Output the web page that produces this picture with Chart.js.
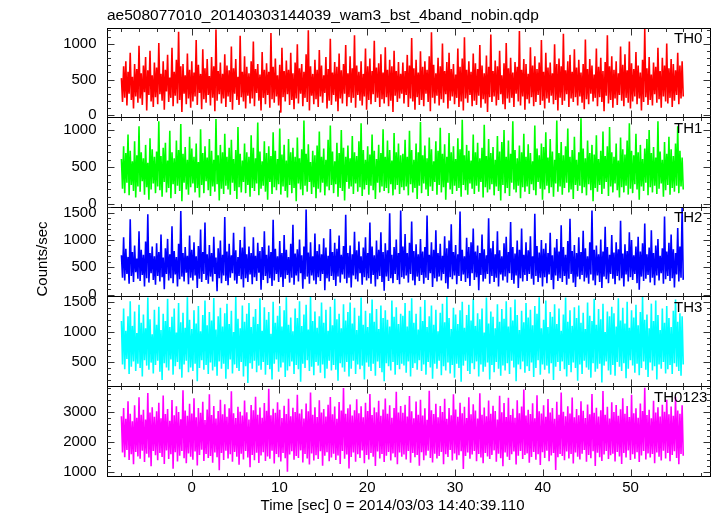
<!DOCTYPE html>
<html>
<head>
<meta charset="utf-8">
<script src="https://cdn.jsdelivr.net/npm/chart.js@4.4.1/dist/chart.umd.min.js"></script>
<style>
  html, body { margin: 0; padding: 0; background: #fff; }
  #lc { display: block; }
</style>
</head>
<body>
<canvas id="lc" width="717" height="516"></canvas>
<script>
// light curve, 5 energy bands, time in sec from 2014/03/03 14:40:39.110
const titleText = 'ae508077010_20140303144039_wam3_bst_4band_nobin.qdp';
const xTitle = 'Time [sec] 0 = 2014/03/03 14:40:39.110';
const yTitle = 'Counts/sec';

const bandNames = ['TH0', 'TH1', 'TH2', 'TH3', 'TH0123'];
const bandColors = ['#ff0000', '#00ff00', '#0000ff', '#00ffff', '#ff00ff'];

const tStart = -8;
const tEnd = 56;

const th0 = [
  520, 180, 690, 240, 760, 130, 610, 300, 880, 210, 540, 90, 720, 260, 650, 170,
  980, 230, 590, 140, 700, 320, 820, 60, 630, 280, 910, 190, 560, 110, 740, 250,
  670, 150, 1020, 290, 580, 200, 760, 70, 640, 330, 850, 180, 530, 240, 950, 120,
  610, 270, 780, 160, 1180, 210, 690, 40, 720, 300, 560, 150, 870, 230, 640, 100,
  760, 190, 600, 260, 1060, 140, 710, 310, 580, 80, 930, 220, 660, 170, 790, 280,
  550, 130, 820, 240, 690, 50, 1210, 200, 620, 290, 740, 160, 580, 230, 860, 110,
  700, 260, 630, 180, 970, 70, 660, 300, 790, 210, 540, 140, 1120, 250, 610, 190,
  830, 90, 680, 270, 590, 160, 760, 230, 1040, 120, 650, 310, 720, 200, 570, 60,
  890, 240, 640, 150, 730, 280, 610, 100, 1160, 220, 680, 170, 800, 260, 560, 130,
  710, 30, 950, 250, 620, 190, 770, 290, 640, 140, 880, 210, 590, 80, 740, 230,
  1000, 160, 660, 300, 720, 120, 610, 240, 860, 180, 1200, 60, 690, 270, 580, 150,
  780, 220, 640, 110, 920, 260, 700, 170, 560, 310, 820, 90, 650, 200, 1080, 140,
  600, 280, 750, 190, 680, 50, 870, 230, 630, 160, 720, 300, 990, 120, 590, 250,
  830, 170, 660, 240, 1130, 100, 700, 280, 610, 200, 760, 130, 580, 260, 940, 70,
  690, 210, 800, 150, 620, 290, 1050, 180, 670, 240, 730, 110, 860, 220, 600, 160,
  960, 250, 640, 120, 780, 200, 690, 40, 910, 270, 620, 180, 750, 230, 580, 300,
  740, 160, 620, 280, 850, 110, 700, 230, 1090, 190, 660, 70, 780, 250, 600, 140,
  900, 210, 680, 120, 760, 300, 640, 180, 830, 50, 1170, 240, 710, 160, 590, 270,
  810, 130, 690, 220, 1010, 170, 620, 290, 750, 90, 880, 200, 650, 260, 720, 150,
  570, 240, 940, 110, 680, 190, 800, 60, 1100, 230, 640, 170, 760, 280, 610, 120,
  870, 200, 730, 140, 650, 270, 990, 100, 700, 220, 590, 160, 840, 40, 680, 250,
  1140, 180, 620, 260, 770, 130, 690, 210, 910, 290, 560, 150, 730, 80, 1020, 230,
  660, 170, 810, 240, 600, 110, 750, 300, 680, 190, 1190, 130, 640, 260, 790, 70,
  720, 220, 580, 160, 960, 250, 700, 120, 830, 180, 650, 280, 740, 140, 1060, 200,
  610, 90, 880, 230, 670, 170, 740, 270, 590, 150, 1000, 210, 720, 60, 800, 240,
  690, 140, 1150, 200, 630, 290, 760, 110, 850, 230, 610, 180, 930, 250, 670, 130,
  780, 260, 600, 170, 720, 80, 1070, 220, 650, 150, 790, 300, 700, 190, 570, 240,
  940, 120, 680, 250, 810, 180, 620, 50, 750, 270, 1130, 160, 690, 210, 830, 100,
  640, 230, 760, 140, 590, 280, 970, 200, 710, 120, 860, 240, 630, 170, 1040, 90,
  730, 190, 650, 260, 890, 150, 700, 230, 600, 60, 780, 180, 1220, 250, 660, 140,
  820, 210, 570, 130, 740, 290, 680, 170, 950, 220, 620, 100, 810, 260, 700, 190,
  1010, 160, 660, 240, 790, 110, 720, 200, 630, 280, 880, 150, 700, 230, 760, 260
];

const th1 = [
  610, 210, 780, 150, 690, 290, 940, 120, 720, 260, 580, 180, 850, 90, 660, 240,
  1050, 170, 700, 310, 620, 130, 800, 230, 560, 60, 890, 200, 740, 280, 640, 150,
  710, 240, 1120, 190, 650, 100, 760, 300, 830, 160, 590, 220, 990, 80, 700, 270,
  620, 140, 860, 250, 730, 180, 1080, 40, 680, 290, 770, 200, 600, 130, 910, 230,
  750, 280, 640, 160, 820, 220, 570, 90, 1010, 260, 690, 150, 780, 310, 630, 190,
  880, 110, 720, 240, 600, 170, 1150, 270, 660, 50, 800, 210, 700, 140, 950, 250,
  640, 200, 760, 130, 870, 290, 610, 180, 730, 70, 1040, 230, 680, 160, 590, 300,
  820, 150, 700, 260, 640, 100, 930, 220, 760, 180, 620, 280, 1100, 120, 710, 210,
  580, 250, 850, 170, 690, 60, 780, 300, 650, 140, 970, 230, 720, 190, 610, 270,
  1020, 130, 670, 240, 800, 180, 590, 90, 880, 260, 700, 150, 760, 220, 640, 40,
  900, 280, 620, 200, 740, 120, 1130, 250, 680, 170, 810, 300, 570, 140, 720, 230,
  660, 80, 790, 210, 980, 160, 640, 290, 750, 120, 600, 240, 870, 190, 1060, 260,
  710, 150, 580, 270, 830, 100, 690, 220, 1000, 180, 760, 50, 640, 300, 790, 210,
  620, 240, 920, 140, 700, 280, 650, 170, 850, 230, 1090, 110, 730, 200, 600, 260,
  780, 130, 670, 250, 940, 190, 720, 70, 610, 290, 800, 160, 690, 240, 1010, 180,
  640, 220, 860, 150, 730, 270, 590, 120, 960, 200, 700, 260, 820, 140, 660, 230,
  680, 190, 870, 240, 640, 120, 990, 270, 730, 160, 600, 220, 820, 70, 700, 250,
  1110, 150, 660, 280, 790, 200, 620, 110, 900, 240, 740, 180, 580, 300, 850, 130,
  720, 260, 1030, 160, 680, 230, 810, 60, 640, 290, 960, 200, 700, 140, 780, 250,
  610, 180, 890, 220, 740, 100, 1140, 260, 660, 190, 800, 130, 720, 280, 590, 210,
  940, 140, 700, 250, 830, 170, 620, 300, 760, 90, 1070, 230, 650, 160, 880, 200,
  690, 270, 770, 120, 600, 240, 920, 180, 710, 50, 840, 260, 1000, 150, 640, 220,
  860, 110, 680, 290, 1120, 200, 730, 160, 620, 250, 790, 80, 700, 230, 950, 170,
  640, 240, 810, 140, 690, 270, 580, 190, 1060, 120, 750, 300, 660, 210, 820, 60,
  770, 200, 970, 250, 630, 150, 880, 230, 710, 100, 600, 280, 1130, 170, 690, 240,
  840, 130, 660, 220, 780, 290, 1020, 160, 640, 200, 730, 70, 910, 260, 600, 180,
  700, 250, 1160, 150, 750, 230, 620, 120, 860, 270, 690, 190, 800, 40, 670, 220,
  930, 170, 610, 260, 720, 140, 980, 210, 650, 300, 780, 110, 1040, 240, 700, 160,
  640, 280, 820, 190, 590, 90, 900, 230, 740, 160, 670, 250, 860, 130, 1090, 210,
  720, 150, 660, 270, 950, 200, 700, 60, 800, 240, 610, 180, 750, 290, 880, 120,
  1000, 230, 690, 160, 770, 250, 630, 140, 1120, 210, 710, 280, 600, 100, 840, 190,
  680, 260, 910, 130, 740, 220, 650, 170, 820, 250, 1050, 150, 720, 240, 630, 200
];

const th2 = [
  720, 310, 1050, 260, 840, 380, 690, 200, 1380, 340, 780, 230, 900, 410, 660, 290,
  1160, 250, 820, 360, 730, 150, 970, 300, 1470, 220, 760, 390, 880, 270, 700, 180,
  940, 340, 780, 240, 1100, 320, 680, 100, 850, 380, 1020, 260, 740, 300, 1250, 210,
  800, 370, 690, 150, 930, 280, 1530, 330, 760, 240, 870, 400, 710, 190, 1080, 310,
  820, 260, 960, 350, 700, 120, 890, 290, 1190, 230, 780, 380, 1320, 270, 740, 200,
  910, 330, 760, 240, 1060, 380, 680, 60, 850, 300, 990, 210, 730, 350, 1420, 250,
  790, 170, 930, 310, 720, 390, 1130, 260, 810, 200, 690, 340, 1000, 280, 860, 130,
  1240, 300, 740, 230, 880, 370, 760, 190, 1050, 320, 710, 250, 950, 400, 800, 90,
  870, 270, 1160, 340, 730, 210, 900, 300, 780, 160, 1370, 260, 840, 380, 700, 230,
  980, 320, 760, 140, 1090, 290, 820, 360, 690, 220, 930, 310, 1280, 180, 750, 350,
  830, 240, 1010, 390, 720, 110, 880, 280, 1560, 330, 770, 200, 960, 350, 700, 260,
  1120, 190, 800, 320, 920, 250, 740, 380, 1030, 80, 860, 300, 710, 240, 1200, 340,
  780, 270, 950, 160, 840, 330, 1080, 220, 730, 370, 890, 290, 1460, 210, 760, 310,
  900, 130, 740, 350, 1150, 280, 810, 240, 970, 390, 700, 180, 860, 320, 1050, 260,
  760, 300, 1320, 200, 880, 360, 720, 150, 990, 280, 820, 340, 1140, 230, 780, 70,
  940, 330, 810, 250, 1490, 300, 730, 210, 870, 380, 1010, 270, 760, 190, 1540, 320,
  880, 290, 1110, 350, 760, 220, 950, 380, 1340, 260, 800, 170, 920, 330, 740, 250,
  1020, 360, 790, 200, 870, 310, 1450, 270, 730, 390, 960, 140, 820, 300, 1180, 240,
  760, 330, 930, 260, 710, 380, 1070, 210, 850, 110, 990, 320, 1290, 280, 780, 350,
  910, 190, 740, 340, 1520, 250, 820, 370, 700, 230, 1040, 300, 870, 160, 960, 390,
  1210, 270, 790, 320, 900, 80, 760, 360, 1100, 240, 830, 290, 720, 380, 1400, 200,
  850, 340, 980, 230, 740, 310, 1160, 150, 810, 370, 700, 260, 940, 330, 1060, 220,
  780, 390, 1330, 270, 870, 200, 750, 350, 990, 120, 820, 300, 1210, 240, 730, 360,
  960, 250, 810, 380, 1070, 290, 700, 180, 1480, 340, 890, 230, 770, 310, 1000, 150,
  840, 320, 940, 210, 760, 370, 1130, 270, 720, 100, 860, 350, 1020, 250, 790, 300,
  1270, 230, 870, 340, 730, 180, 980, 290, 1390, 380, 800, 220, 910, 140, 760, 330,
  1050, 280, 780, 360, 1170, 240, 850, 310, 700, 200, 960, 370, 1540, 260, 820, 170,
  900, 350, 740, 230, 1010, 120, 790, 330, 1240, 280, 870, 210, 730, 380, 1090, 290,
  770, 190, 960, 340, 830, 260, 1350, 300, 750, 150, 920, 370, 800, 240, 1140, 320,
  1000, 270, 720, 380, 880, 210, 1060, 90, 790, 330, 940, 250, 1300, 290, 740, 360,
  860, 220, 1180, 310, 760, 170, 900, 350, 1020, 260, 710, 390, 850, 200, 1430, 280,
  790, 340, 950, 250, 1100, 300, 830, 130, 760, 370, 1220, 240, 880, 310, 1590, 270
];

const th3 = [
  1180, 460, 1390, 380, 1020, 550, 1260, 300, 1510, 420, 1100, 510, 1340, 350, 980, 470,
  1450, 400, 1150, 260, 1290, 530, 1060, 440, 1570, 370, 1210, 490, 960, 310, 1370, 450,
  1120, 520, 1420, 340, 1030, 200, 1300, 480, 1180, 410, 1550, 360, 1080, 540, 1250, 290,
  1390, 430, 990, 500, 1480, 380, 1160, 240, 1320, 460, 1070, 520, 1575, 330, 1200, 410,
  1050, 350, 1360, 470, 1140, 180, 1430, 400, 1010, 530, 1280, 370, 1520, 450, 1110, 300,
  1330, 490, 1190, 360, 1565, 420, 1040, 270, 1260, 510, 1400, 390, 1090, 470, 1310, 220,
  1470, 380, 1130, 540, 1350, 310, 1000, 460, 1580, 400, 1220, 350, 1060, 500, 1440, 260,
  1170, 430, 1300, 150, 1480, 480, 1080, 390, 1250, 520, 1380, 330, 1130, 440, 1560, 370,
  1020, 500, 1410, 290, 1200, 450, 1330, 380, 970, 210, 1500, 470, 1150, 540, 1270, 340,
  1430, 410, 1090, 490, 1360, 250, 1575, 360, 1120, 430, 1240, 510, 1010, 300, 1390, 450,
  1230, 380, 1510, 170, 1100, 470, 1290, 400, 1450, 530, 1040, 350, 1580, 420, 1180, 280,
  1340, 500, 1070, 440, 1260, 320, 1490, 460, 1150, 230, 1370, 390, 1020, 520, 1420, 360,
  1110, 450, 1550, 370, 1210, 190, 1300, 480, 1060, 410, 1460, 340, 1190, 500, 1330, 260,
  1490, 390, 1140, 520, 1400, 300, 1030, 460, 1270, 380, 1570, 440, 1120, 210, 1350, 490,
  1080, 420, 1310, 350, 1540, 470, 1170, 270, 1380, 510, 1050, 400, 1440, 330, 1230, 180,
  1360, 480, 1200, 430, 1090, 360, 1520, 500, 1250, 290, 1410, 450, 1130, 380, 1300, 470,
  1270, 440, 1480, 320, 1090, 510, 1350, 260, 1560, 400, 1150, 480, 1300, 370, 1040, 530,
  1420, 350, 1180, 460, 1530, 290, 1080, 500, 1260, 410, 1440, 220, 1120, 470, 1370, 390,
  1010, 520, 1320, 280, 1470, 430, 1160, 360, 1580, 490, 1230, 310, 1050, 450, 1400, 240,
  1290, 470, 1130, 400, 1360, 170, 1500, 440, 1070, 520, 1280, 350, 1450, 300, 1190, 480,
  1550, 380, 1100, 510, 1310, 260, 1210, 460, 1390, 340, 990, 420, 1570, 490, 1140, 210,
  1340, 450, 1250, 330, 1060, 500, 1460, 390, 1170, 270, 1380, 440, 1220, 360, 1510, 480,
  1090, 300, 1410, 520, 1190, 410, 1540, 180, 1280, 460, 1030, 380, 1350, 510, 1160, 320,
  1480, 430, 1240, 350, 1370, 490, 1110, 250, 1430, 400, 1300, 530, 1575, 290, 1060, 460,
  1200, 370, 1520, 440, 1080, 310, 1330, 480, 1250, 200, 1460, 420, 1130, 500, 1390, 350,
  1020, 510, 1290, 380, 1570, 260, 1170, 450, 1360, 330, 1100, 490, 1410, 400, 1230, 190,
  1440, 460, 1150, 300, 1320, 520, 1050, 410, 1490, 370, 1270, 240, 1180, 480, 1550, 340,
  1120, 390, 1380, 470, 1210, 160, 1470, 440, 1000, 510, 1340, 360, 1260, 290, 1420, 450,
  1310, 270, 1090, 500, 1560, 420, 1190, 350, 1400, 480, 1140, 230, 1500, 390, 1070, 530,
  1360, 440, 1240, 320, 1450, 470, 1110, 280, 1330, 400, 1580, 510, 1200, 370, 1290, 250,
  1060, 490, 1470, 360, 1180, 430, 1520, 210, 1280, 460, 1030, 390, 1390, 500, 1150, 310,
  1430, 380, 1230, 450, 1080, 300, 1350, 480, 1540, 420, 1170, 350, 1310, 270, 1260, 460
];

const th0123 = [
  2850, 1640, 3120, 1480, 2760, 1720, 3350, 1390, 2930, 1580, 2680, 1250, 3210, 1660, 2800, 1510,
  3480, 1430, 2900, 1700, 3060, 1320, 2740, 1600, 3620, 1470, 2970, 1180, 3150, 1690, 2830, 1550,
  3010, 1380, 3300, 1620, 2780, 1490, 3540, 1260, 2920, 1710, 3090, 1420, 2700, 1580, 3390, 1100,
  2880, 1650, 3180, 1340, 2990, 1530, 2750, 1690, 3710, 1450, 3040, 1280, 2860, 1610, 3260, 1500,
  2940, 1400, 3450, 1670, 2810, 1210, 3120, 1560, 2960, 1730, 3330, 1360, 2720, 1590, 3070, 1460,
  3580, 1520, 2890, 1300, 3190, 1640, 2770, 1480, 3020, 1050, 3400, 1620, 2910, 1390, 3250, 1700,
  2830, 1440, 3110, 1580, 3680, 1330, 2950, 1660, 2790, 1500, 3160, 1230, 3000, 1600, 2870, 1410,
  3370, 1690, 2980, 1470, 2740, 1150, 3220, 1560, 3050, 1380, 3500, 1630, 2900, 1290, 3140, 1540,
  2800, 1650, 3290, 1360, 3030, 1510, 3760, 1430, 2880, 1700, 3100, 1270, 2960, 1590, 3310, 1480,
  3060, 1340, 2790, 1620, 3200, 1450, 2920, 1000, 3430, 1570, 2850, 1680, 3130, 1400, 2990, 1520,
  3560, 1460, 2940, 1710, 3080, 1310, 2770, 1590, 3270, 1440, 3010, 1240, 3640, 1610, 2900, 1370,
  3150, 1550, 2820, 1420, 3380, 1680, 2970, 1200, 3090, 1530, 2840, 1650, 3230, 1350, 3490, 1470,
  2910, 1600, 3170, 1390, 2760, 1540, 3320, 1260, 3040, 1690, 3790, 1430, 2930, 1570, 3110, 1110,
  3240, 1490, 2870, 1640, 3050, 1330, 3410, 1580, 2950, 1460, 3180, 1710, 2810, 1280, 3300, 1560,
  3020, 1410, 3590, 1620, 2890, 1500, 3140, 1190, 2980, 1670, 3360, 1440, 2860, 1590, 3070, 1320,
  3440, 1530, 2930, 1660, 3210, 1370, 2800, 1610, 3120, 1480, 3660, 1250, 2970, 1640, 3190, 1500,
  2960, 1570, 3230, 1410, 2840, 1690, 3520, 1300, 3010, 1620, 2780, 1480, 3340, 1560, 2900, 1200,
  3400, 1650, 2870, 1380, 3110, 1540, 2730, 1700, 3700, 1460, 3050, 1310, 2920, 1600, 3260, 1440,
  2810, 1520, 3190, 1660, 2990, 1250, 3430, 1580, 2760, 1490, 3120, 1720, 2880, 1370, 3580, 1610,
  3070, 1400, 2830, 1550, 3300, 1680, 2950, 1090, 3160, 1520, 2790, 1640, 3480, 1430, 2910, 1570,
  3250, 1690, 3040, 1350, 2770, 1590, 3610, 1470, 2900, 1280, 3140, 1620, 2850, 1510, 3370, 1420,
  2930, 1560, 3200, 1710, 3020, 1330, 2740, 1600, 3530, 1450, 2980, 1180, 3290, 1640, 2820, 1500,
  3460, 1390, 2890, 1580, 3100, 1670, 2800, 1240, 3380, 1530, 2950, 1690, 3170, 1420, 3740, 1560,
  2870, 1610, 3060, 1300, 2920, 1490, 3280, 1660, 2780, 1400, 3550, 1580, 3010, 1220, 2940, 1650,
  3210, 1460, 2830, 1700, 3420, 1350, 2970, 1540, 3120, 1620, 2760, 1060, 3330, 1480, 2900, 1590,
  3640, 1520, 3000, 1380, 2850, 1670, 3180, 1440, 2940, 1590, 3470, 1270, 2810, 1640, 3090, 1500,
  2880, 1410, 3350, 1600, 3030, 1720, 2790, 1330, 3240, 1560, 2910, 1450, 3590, 1680, 2960, 1190,
  3130, 1630, 2840, 1480, 3050, 1360, 3690, 1570, 2900, 1690, 3160, 1420, 2770, 1550, 3310, 1600,
  2990, 1340, 3220, 1660, 2860, 1510, 3080, 1260, 3450, 1620, 2930, 1470, 3190, 1710, 2820, 1390,
  3560, 1580, 2950, 1430, 3110, 1650, 2800, 1320, 3270, 1540, 3020, 1690, 3800, 1410, 2890, 1610,
  3060, 1470, 2780, 1590, 3360, 1280, 2970, 1640, 3150, 1500, 2840, 1370, 3230, 1700, 3000, 1440,
  3400, 1620, 2910, 1350, 3170, 1560, 2860, 1680, 3500, 1460, 3040, 1250, 2930, 1590, 3210, 1530
];

const bandValues = [th0, th1, th2, th3, th0123];

// axis limits of each panel and their labelled ticks
const xRange = [-9.7, 59.05];
const xTickLabels = [0, 10, 20, 30, 40, 50];
const yRanges = [[-34, 1239], [-34, 1174], [-33, 1608], [100, 1590], [867, 3853]];
const yTickLabels = [
  [0, 500, 1000],
  [0, 500, 1000],
  [0, 500, 1000, 1500],
  [500, 1000, 1500],
  [1000, 2000, 3000]
];
const yMinorStep = [100, 100, 100, 100, 200];
const yMajorStep = [500, 500, 500, 500, 1000];

const FONT = '"Liberation Sans", Arial, Helvetica, sans-serif';

function toPoints(vals) {
  const dt = (tEnd - tStart) / (vals.length - 1);
  return vals.map((v, i) => ({x: tStart + i * dt, y: v}));
}

const datasets = bandValues.map((vals, i) => ({
  label: bandNames[i],
  data: toPoints(vals),
  yAxisID: 'y' + i,
  borderColor: bandColors[i],
  borderWidth: 1.6,
  pointRadius: 0,
  tension: 0,
  fill: false
}));

const scales = {
  x: {
    type: 'linear',
    position: 'bottom',
    min: xRange[0],
    max: xRange[1],
    grid: {display: false, drawTicks: false},
    border: {display: false},
    afterBuildTicks: s => { s.ticks = xTickLabels.map(v => ({value: v})); },
    afterFit: s => { s.height = 40.3; },
    ticks: {
      autoSkip: false,
      maxRotation: 0,
      padding: 3,
      color: '#000',
      font: {family: FONT, size: 15},
      callback: v => String(v)
    }
  }
};
bandNames.forEach((name, i) => {
  scales['y' + i] = {
    type: 'linear',
    position: 'left',
    stack: 'bands',
    stackWeight: 1,
    weight: 10 - i,
    min: yRanges[i][0],
    max: yRanges[i][1],
    grid: {display: false, drawTicks: false},
    border: {display: false},
    afterBuildTicks: s => { s.ticks = yTickLabels[i].map(v => ({value: v})); },
    afterFit: s => { s.width = 106.5; },
    ticks: {
      autoSkip: false,
      padding: 10,
      color: '#000',
      font: {family: FONT, size: 15},
      callback: v => String(v)
    }
  };
});

// qdp style frames, inward ticks and texts
const qdpFrame = {
  id: 'qdpFrame',
  afterDatasetsDraw(chart) {
    const ctx = chart.ctx;
    const area = chart.chartArea;
    const xs = chart.scales.x;
    ctx.save();
    ctx.lineWidth = 1;

    bandNames.forEach((name, i) => {
      const ys = chart.scales['y' + i];
      const top = Math.round(ys.top) + 0.5;
      const bot = Math.round(ys.bottom) + 0.5;
      const left = Math.round(area.left) + 0.5;
      const right = Math.round(area.right) + 0.5;

      ctx.strokeStyle = '#000';
      ctx.strokeRect(left, top, right - left, bot - top);

      ctx.strokeStyle = '#333';
      ctx.beginPath();
      // y ticks, both sides
      const step = yMinorStep[i];
      for (let v = Math.ceil(ys.min / step) * step; v <= ys.max; v += step) {
        const py = Math.round(ys.getPixelForValue(v)) + 0.5;
        const len = (v % yMajorStep[i] === 0) ? 7 : 3.5;
        ctx.moveTo(left, py); ctx.lineTo(left + len, py);
        ctx.moveTo(right, py); ctx.lineTo(right - len, py);
      }
      // x ticks, top and bottom of every panel
      for (let t = Math.ceil(xs.min / 2) * 2; t <= xs.max; t += 2) {
        const px = Math.round(xs.getPixelForValue(t)) + 0.5;
        const len = (t % 10 === 0) ? 7 : 3.5;
        ctx.moveTo(px, top); ctx.lineTo(px, top + len);
        ctx.moveTo(px, bot); ctx.lineTo(px, bot - len);
      }
      ctx.stroke();

      // band label
      ctx.fillStyle = '#000';
      ctx.font = '15px ' + FONT;
      ctx.textBaseline = 'alphabetic';
      ctx.textAlign = 'left';
      ctx.fillText(name, name.length > 3 ? 654 : 674, ys.top + 15.5);
    });

    ctx.fillStyle = '#000';
    ctx.textBaseline = 'alphabetic';
    ctx.font = '15.5px ' + FONT;
    ctx.textAlign = 'left';
    ctx.fillText(titleText, 107, 20);

    ctx.font = '15px ' + FONT;
    ctx.textAlign = 'center';
    ctx.fillText(xTitle, 392.5, 510);

    ctx.save();
    ctx.translate(46.5, 259);
    ctx.rotate(-Math.PI / 2);
    ctx.fillText(yTitle, 0, 0);
    ctx.restore();

    ctx.restore();
  }
};

new Chart(document.getElementById('lc').getContext('2d'), {
  type: 'line',
  data: {datasets},
  options: {
    responsive: false,
    devicePixelRatio: 1,
    animation: false,
    layout: {padding: {top: 27.5, right: 7, left: 0, bottom: 0}},
    plugins: {legend: {display: false}, tooltip: {enabled: false}, title: {display: false}},
    scales
  },
  plugins: [qdpFrame]
});
</script>
</body>
</html>
